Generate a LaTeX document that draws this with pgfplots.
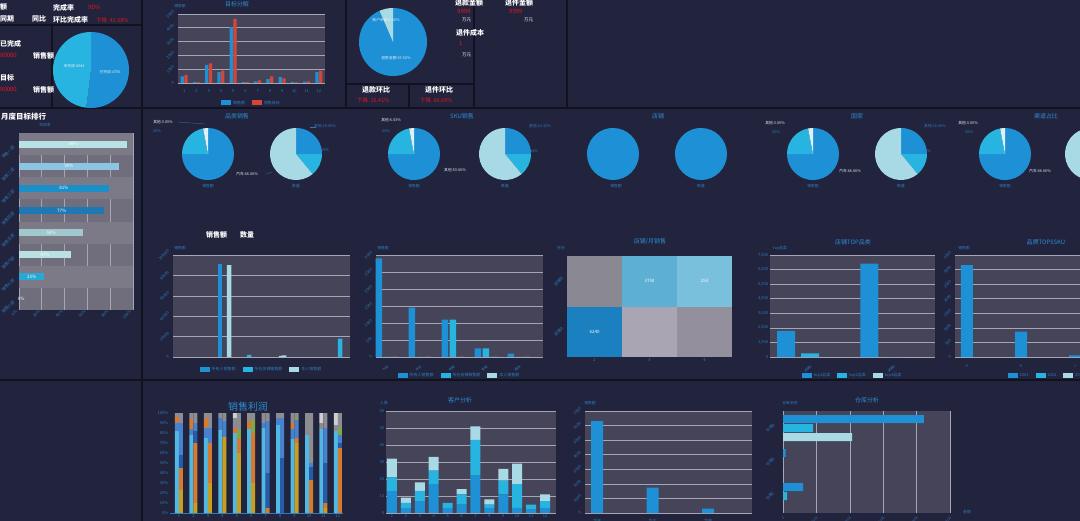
\documentclass[border=0pt]{standalone}
\usepackage{pgfplots}
\pgfplotsset{compat=1.18}
\usepackage{fontspec}
\setmainfont{Noto Sans CJK SC}

\definecolor{bg}{RGB}{34,36,61}
\definecolor{divc}{RGB}{17,18,32}
\definecolor{plotbg}{RGB}{70,68,88}
\definecolor{gridc}{RGB}{165,165,180}
\definecolor{tickc}{RGB}{45,125,190}
\definecolor{titc}{RGB}{45,140,210}
\definecolor{cblue}{RGB}{30,144,214}
\definecolor{ccyan}{RGB}{40,180,225}
\definecolor{cpale}{RGB}{168,218,230}
\definecolor{cwhite}{RGB}{225,240,245}
\definecolor{cred}{RGB}{214,70,56}
\definecolor{kred}{RGB}{230,20,30}
\definecolor{sgold}{RGB}{200,158,32}
\definecolor{sorange}{RGB}{214,122,48}
\definecolor{sdblue}{RGB}{40,90,170}
\definecolor{sblue}{RGB}{70,130,205}
\definecolor{sgreen}{RGB}{130,168,70}
\definecolor{sgray}{RGB}{140,140,145}
\definecolor{slgray}{RGB}{205,205,210}
\definecolor{scyan}{RGB}{80,184,226}
\definecolor{rkbg}{RGB}{112,110,124}
\definecolor{rkband}{RGB}{125,122,136}
\definecolor{rk1}{RGB}{183,225,228}
\definecolor{rk2}{RGB}{140,196,226}
\definecolor{rk3}{RGB}{26,143,200}
\definecolor{rk4}{RGB}{30,120,180}
\definecolor{rk5}{RGB}{160,200,205}
\definecolor{rk6}{RGB}{185,225,228}
\definecolor{rk7}{RGB}{39,169,214}
\definecolor{hm1}{RGB}{138,136,147}
\definecolor{hm2}{RGB}{93,176,212}
\definecolor{hm3}{RGB}{121,192,220}
\definecolor{hm4}{RGB}{26,128,191}
\definecolor{hm5}{RGB}{169,165,179}
\definecolor{hm6}{RGB}{147,143,156}

\newcommand{\fsz}[1]{\fontsize{#1}{#1}\selectfont}
% pie wedge: centre x, centre y, radius, from %, to %, colour (clockwise from top)
\newcommand{\pieslice}[6]{\fill[#6] (axis cs:#1,#2) -- ++({90-3.6*(#4)}:#3bp) arc[start angle={90-3.6*(#4)}, end angle={90-3.6*(#5)}, radius=#3bp] -- cycle;}
\newcommand{\pieA}[2]{\pieslice{#1}{#2}{26}{0}{75}{cblue}\pieslice{#1}{#2}{26}{75}{97}{ccyan}\pieslice{#1}{#2}{26}{97}{100}{cwhite}}
\newcommand{\pieB}[2]{\pieslice{#1}{#2}{26}{0}{25}{cblue}\pieslice{#1}{#2}{26}{25}{39}{ccyan}\pieslice{#1}{#2}{26}{39}{100}{cpale}}

\pgfplotsset{
  sq/.style={legend image code/.code={\fill[##1, draw=none] (0bp,-2bp) rectangle (10bp,3bp);}},
  dash/.style={
    scale only axis, clip=false, anchor=north west,
    axis background/.style={fill=plotbg},
    axis line style={draw=none},
    tick style={draw=none},
    ymajorgrids, major grid style={gridc, line width=0.6bp},
    tick label style={font=\fsz{4}, text=tickc},
    xticklabel style={yshift=1.5bp}, yticklabel style={xshift=1.5bp},
    /pgf/number format/assume math mode=true,
    every axis plot post/.append style={sq},
    legend style={draw=none, fill=none, font=\fsz{4}, text=tickc, legend columns=-1,
      /tikz/every even column/.append style={column sep=5bp}},
  },
}

\begin{document}
\begin{tikzpicture}[x=1bp, y=-1bp]
\useasboundingbox (0,0) rectangle (1080,521);
\clip (0,0) rectangle (1080,521);
\fill[bg] (0,0) rectangle (1080,521);

% dividers
\draw[divc, line width=1.2bp] (0,108) -- (1080,108);
\draw[divc, line width=1.2bp] (0,380) -- (1080,380);
\draw[divc, line width=1.2bp] (142,0) -- (142,521);
\draw[divc, line width=1.2bp] (0,25) -- (142,25);
\draw[divc, line width=1.2bp] (52,25) -- (52,108);
\draw[divc, line width=1.2bp] (346,0) -- (346,108);
\draw[divc, line width=1.2bp] (474,0) -- (474,108);
\draw[divc, line width=1.2bp] (567,0) -- (567,108);
\draw[divc, line width=1.2bp] (346,84) -- (474,84);
\draw[divc, line width=1.2bp] (409,84) -- (409,108);

% top-left KPI texts
\begin{scope}[every node/.style={inner sep=0pt, anchor=west, font=\fsz{7}\bfseries, text=white}]
\node at (0,7) {额};
\node at (0,19) {同期};
\node at (32,19) {同比};
\node at (53,8) {完成率};
\node[text=kred, font=\fsz{6}] at (88,7) {90\%};
\node at (53,20) {环比完成率};
\node[text=kred, font=\fsz{5.5}] at (96,20) {下降\ \ 41.38\%};
\node at (0,44) {已完成};
\node[text=kred, font=\fsz{6}] at (0,55) {80000};
\node at (33,56) {销售额};
\node at (0,78) {目标};
\node[text=kred, font=\fsz{6}] at (0,89) {90000};
\node at (33,90) {销售额};
% refunds
\node at (455,3) {退款金额};
\node[text=kred, font=\fsz{6}] at (457,11) {9999};
\node[font=\fsz{4.5}] at (462,20) {万元};
\node at (456,33) {退件成本};
\node[text=kred, font=\fsz{6}] at (459,43) {1};
\node[font=\fsz{4.5}] at (462,55) {万元};
\node at (505,3) {退件金额};
\node[text=kred, font=\fsz{6}] at (509,11) {9999};
\node[font=\fsz{4.5}] at (524,20) {万元};
\node at (362,90) {退款环比};
\node[text=kred, font=\fsz{5.5}] at (357,100) {下降\ \ 16.41\%};
\node at (425,90) {退件环比};
\node[text=kred, font=\fsz{5.5}] at (420,100) {下降\ \ 66.66\%};
% section titles
\node[font=\fsz{7.5}\bfseries] at (1,117) {月度目标排行};
\node[font=\fsz{7}\bfseries] at (206,235) {销售额};
\node[font=\fsz{7}\bfseries] at (240,235) {数量};
\end{scope}

\begin{scope}[every node/.style={inner sep=0pt, font=\fsz{6}, text=titc}]
\node at (237,4) {目标分解};
\node at (237,116) {品类销售};
\node at (462,116) {SKU销售};
\node at (658,116) {店铺};
\node at (857,116) {国家};
\node at (1046,116) {渠道占比};
\node at (650,242) {店铺/月销售};
\node at (853,242) {店铺TOP品类};
\node at (1046,242) {品牌TOP5SKU};
\node at (460,400) {客户分析};
\node at (867,400) {仓库分析};
\node[font=\fsz{10}] at (248,407) {销售利润};
\end{scope}

\begin{scope}[every node/.style={inner sep=0pt, font=\fsz{3.8}, text=tickc}]
\node at (180,6) {销售额};
\node at (45,125) {完成率};
\node at (180,248) {销售额};
\node at (383,248) {销售额};
\node at (561,248) {月份};
\node at (780,248) {top品类};
\node at (964,248) {销售额};
\node at (384,403) {人数};
\node at (590,403) {销售额};
\node at (790,403) {仓库名称};
\node at (967,512) {金额};
\end{scope}

% pies (values in percent)
\begin{axis}[at={(0bp,0bp)}, anchor=north west, scale only axis, width=1080bp, height=521bp,
  xmin=0, xmax=1080, ymin=0, ymax=521, y dir=reverse, hide axis, clip=false]
\pieslice{91}{70}{38}{0}{52}{cblue}
\pieslice{91}{70}{38}{52}{100}{ccyan}
\pieslice{393}{42}{34}{0}{93.5}{cblue}
\pieslice{393}{42}{34}{93.5}{100}{cpale}
\pieA{208}{154} \pieB{296}{154}
\pieA{414}{154} \pieB{505}{154}
\pieslice{613}{154}{26}{0}{100}{cblue}
\pieslice{701}{154}{26}{0}{100}{cblue}
\pieA{813}{154} \pieB{901}{154}
\pieA{1005}{154} \pieB{1091}{154}
\end{axis}

% pie labels
\begin{scope}[every node/.style={inner sep=0pt, font=\fsz{3.8}, text=cwhite}]
\node at (74,66) {未完成:4044};
\node at (110,72) {已完成:4756};
\node at (386,20) {账户余额:6.50\%};
\node at (396,58) {退款金额:93.50\%};
\node at (163,122) {其他:3.05\%};
\node at (247,174) {汽车:66.00\%};
\node at (391,120) {其他:6.03\%};
\node at (455,170) {其他:53.66\%};
\node at (775,123) {其他:3.05\%};
\node at (850,171) {汽车:66.66\%};
\node at (968,123) {其他:3.05\%};
\node at (1040,171) {汽车:66.66\%};
\end{scope}
\begin{scope}[every node/.style={inner sep=0pt, font=\fsz{3.8}, text=tickc}]
\foreach \cx/\lab in {208/销售额, 296/数量, 414/销售额, 505/数量, 813/销售额, 901/数量, 1005/销售额} {\node at (\cx,186) {\lab};}
\node at (616,186) {销售额};
\node at (701,186) {数量};
\node at (157,131) {20\%};
\node at (386,131) {20\%};
\node at (776,132) {20\%};
\node at (969,132) {20\%};
\node at (325,126) {其他:18.00\%};
\node at (540,126) {其他:16.32\%};
\node at (935,126) {其他:16.66\%};
\node at (325,150) {25\%};
\node at (534,151) {16\%};
\node at (927,151) {14\%};
\draw[tickc, line width=0.3bp] (178,122) -- (205,124);
\draw[tickc, line width=0.3bp] (266,174) -- (272,172);
\draw[tickc, line width=0.3bp] (310,127) -- (316,127);
\end{scope}

% target split
\begin{axis}[dash, at={(178bp,-14bp)}, width=147bp, height=69bp,
  ybar=0.6bp, bar width=3.3bp, xmin=0.5, xmax=12.5, ymin=0, ymax=210,
  ytick={0,42,...,210}, yticklabels={0,1000,2000,3000,4000,5000},
  y tick label style={rotate=45}, xtick={1,...,12},
  legend style={at={(0.5,-0.2)}, anchor=north}]
\addplot[fill=cblue, draw=none] coordinates {(1,20) (2,3) (3,55) (4,33) (5,170) (6,3) (7,5) (8,12) (9,18) (10,3) (11,4) (12,33)};
\addlegendentry{销售额}
\addplot[fill=cred, draw=none] coordinates {(1,25) (2,2) (3,60) (4,38) (5,195) (6,3) (7,8) (8,20) (9,14) (10,2) (11,5) (12,38)};
\addlegendentry{销售目标}
\end{axis}

% monthly ranking
\begin{axis}[dash, at={(19bp,-133bp)}, width=114bp, height=177bp,
  xbar, bar width=7bp, ymin=0.5, ymax=8.5, y dir=reverse, xmin=0, xmax=103,
  ymajorgrids=false, xmajorgrids, axis background/.style={fill=rkbg},
  xtick={0,20.6,41.2,61.8,82.4,103}, xticklabels={0\%,20\%,40\%,60\%,80\%,100\%},
  x tick label style={rotate=45, anchor=east},
  ytick={1,...,8}, yticklabels={销售一部,销售二部,销售三部,销售四部,销售五部,销售六部,销售七部,销售八部},
  y tick label style={rotate=45, anchor=east}]
\fill[rkband] (axis cs:0,0.5) rectangle (axis cs:103,1.5);
\fill[rkband] (axis cs:0,2.5) rectangle (axis cs:103,3.5);
\fill[rkband] (axis cs:0,4.5) rectangle (axis cs:103,5.5);
\fill[rkband] (axis cs:0,6.5) rectangle (axis cs:103,7.5);
\addplot[fill=rk1, draw=none, bar shift=0pt] coordinates {(98,1)};
\addplot[fill=rk2, draw=none, bar shift=0pt] coordinates {(90,2)};
\addplot[fill=rk3, draw=none, bar shift=0pt] coordinates {(81,3)};
\addplot[fill=rk4, draw=none, bar shift=0pt] coordinates {(77,4)};
\addplot[fill=rk5, draw=none, bar shift=0pt] coordinates {(58,5)};
\addplot[fill=rk6, draw=none, bar shift=0pt] coordinates {(47,6)};
\addplot[fill=rk7, draw=none, bar shift=0pt] coordinates {(23,7)};
\addplot[fill=cblue, draw=none, bar shift=0pt] coordinates {(0,8)};
\node[font=\fsz{4.5}, text=white, inner sep=0pt] at (axis cs:49,1) {98\%};
\node[font=\fsz{4.5}, text=white, inner sep=0pt] at (axis cs:45,2) {90\%};
\node[font=\fsz{4.5}, text=white, inner sep=0pt] at (axis cs:40.5,3) {81\%};
\node[font=\fsz{4.5}, text=white, inner sep=0pt] at (axis cs:38.5,4) {77\%};
\node[font=\fsz{4.5}, text=white, inner sep=0pt] at (axis cs:29,5) {58\%};
\node[font=\fsz{4.5}, text=white, inner sep=0pt] at (axis cs:23.5,6) {47\%};
\node[font=\fsz{4.5}, text=white, inner sep=0pt] at (axis cs:11.5,7) {23\%};
\node[font=\fsz{4.5}, text=white, inner sep=0pt] at (axis cs:2,8) {0\%};
\end{axis}

% sales amount by person
\begin{axis}[dash, at={(173bp,-255bp)}, width=177bp, height=102bp,
  ybar, bar width=4.5bp, xmin=173, xmax=350, ymin=0, ymax=5, ytick={0,...,5},
  yticklabels={0,20000,40000,60000,80000,100000}, y tick label style={rotate=45},
  xtick=\empty, legend style={at={(0.5,-0.06)}, anchor=north}]
\addplot[fill=cblue, draw=none, bar shift=0pt] coordinates {(220,4.55)};
\addlegendentry{所有人销售额}
\addplot[fill=ccyan, draw=none, bar shift=0pt] coordinates {(249,0.1) (340,0.9)};
\addlegendentry{所在店铺销售额}
\addplot[fill=cpale, draw=none, bar shift=0pt] coordinates {(229,4.5) (281,0.05) (284,0.08)};
\addlegendentry{本人销售额}
\end{axis}

% quantity by category
\begin{axis}[dash, at={(376bp,-255bp)}, width=167bp, height=102bp,
  ybar=1.5bp, bar width=6.5bp, xmin=0.67, xmax=5.73, ymin=0, ymax=6, ytick={0,...,6},
  yticklabels={0,500,1000,1500,2000,2500,3000}, y tick label style={rotate=45},
  xtick={1,...,5}, xticklabels={汽车,手机,电脑,家电,服饰},
  x tick label style={rotate=45, anchor=north east, font=\fsz{3.3}},
  legend style={at={(0.5,-0.12)}, anchor=north}]
\addplot[fill=cblue, draw=none] coordinates {(1,5.8) (2,2.9) (3,2.2) (4,0.5) (5,0.2)};
\addlegendentry{所有人销售额}
\addplot[fill=ccyan, draw=none] coordinates {(1,0) (2,0) (3,2.2) (4,0.5) (5,0)};
\addlegendentry{所在店铺销售额}
\addplot[fill=cpale, draw=none] coordinates {(1,0) (2,0) (3,0) (4,0) (5,0)};
\addlegendentry{本人销售额}
\end{axis}

% store / month heatmap
\begin{axis}[dash, at={(567bp,-256bp)}, width=165bp, height=101bp,
  xmin=0, xmax=3, ymin=0, ymax=2, ymajorgrids=false,
  xtick={0.5,1.5,2.5}, xticklabels={2,3,4}, ytick={0.5,1.5}, yticklabels={店铺A,店铺B},
  y tick label style={rotate=45}]
\addplot[fill=hm1, draw=none] coordinates {(0,1) (1,1) (1,2) (0,2)} -- cycle;
\addplot[fill=hm2, draw=none] coordinates {(1,1) (2,1) (2,2) (1,2)} -- cycle;
\addplot[fill=hm3, draw=none] coordinates {(2,1) (3,1) (3,2) (2,2)} -- cycle;
\addplot[fill=hm4, draw=none] coordinates {(0,0) (1,0) (1,1) (0,1)} -- cycle;
\addplot[fill=hm5, draw=none] coordinates {(1,0) (2,0) (2,1) (1,1)} -- cycle;
\addplot[fill=hm6, draw=none] coordinates {(2,0) (3,0) (3,1) (2,1)} -- cycle;
\node[font=\fsz{4.5}, text=white] at (axis cs:0.5,0.5) {6240};
\node[font=\fsz{4.5}, text=white] at (axis cs:1.5,1.5) {3750};
\node[font=\fsz{4.5}, text=white] at (axis cs:2.5,1.5) {253};
\end{axis}

% store top category
\begin{axis}[dash, at={(770bp,-255bp)}, width=165bp, height=102bp,
  ybar=6bp, bar width=18bp, xmin=-0.48, xmax=1.5, ymin=0, ymax=7000, ytick={0,1000,...,7000},
  scaled y ticks=false, xtick={0,1}, xticklabels={店铺A,店铺B},
  x tick label style={rotate=45, anchor=north east, font=\fsz{3.3}},
  legend style={at={(0.5,-0.12)}, anchor=north}]
\addplot[fill=cblue, draw=none] coordinates {(0,1800) (1,6400)};
\addlegendentry{top1品类}
\addplot[fill=ccyan, draw=none] coordinates {(0,250) (1,0)};
\addlegendentry{top2品类}
\addplot[fill=cpale, draw=none] coordinates {(0,0) (1,0)};
\addlegendentry{top3品类}
\end{axis}

% brand top5 sku
\begin{axis}[dash, at={(955bp,-255bp)}, width=165bp, height=102bp,
  ybar, bar width=12bp, xmin=-0.22, xmax=2.83, ymin=0, ymax=7, ytick={0,...,7},
  yticklabels={0,500,1000,1500,2000,2500,3000,3500}, y tick label style={rotate=45},
  xtick={0,1,2}, xticklabels={A,B,C}, x tick label style={rotate=45, anchor=north east, font=\fsz{3.3}},
  legend style={at={(0.3,-0.12)}, anchor=north west}]
\addplot[fill=cblue, draw=none, bar shift=0pt] coordinates {(0,6.3) (1,1.75) (2,0.12)};
\addlegendentry{2001}
\addplot[fill=ccyan, draw=none, bar shift=0pt] coordinates {(0,0) (1,0) (2,0)};
\addlegendentry{2002}
\addplot[fill=cpale, draw=none, bar shift=0pt] coordinates {(0,0) (1,0) (2,0)};
\addlegendentry{2003}
\end{axis}

% sales profit (100% stacked, two columns a month)
\begin{axis}[dash, at={(170bp,-413bp)}, width=173bp, height=100bp,
  axis background/.style={fill=none}, ymajorgrids=false,
  ybar stacked, bar width=4bp, bar shift=-2bp, xmin=0.38, xmax=12.35, ymin=0, ymax=100,
  ytick={0,10,...,100}, yticklabel={\pgfmathprintnumber{\tick}\%}, xtick={1,...,12},
  axis x line*=bottom, x axis line style={draw=tickc}]
\addplot[fill=scyan, draw=none] coordinates {(1,82) (2,78) (3,75) (4,83) (5,80) (6,84) (7,85) (8,88) (9,74) (10,78) (11,84) (12,82)};
\addplot[fill=sblue, draw=none] coordinates {(1,8) (2,6) (3,10) (4,12) (5,0) (6,0) (7,5) (8,7) (9,10) (10,0) (11,0) (12,0)};
\addplot[fill=sorange, draw=none] coordinates {(1,6) (2,10) (3,10) (4,0) (5,5) (6,8) (7,0) (8,0) (9,6) (10,0) (11,0) (12,0)};
\addplot[fill=sgray, draw=none] coordinates {(1,4) (2,6) (3,5) (4,5) (5,10) (6,8) (7,10) (8,5) (9,10) (10,22) (11,6) (12,6)};
\addplot[fill=slgray, draw=none] coordinates {(1,0) (2,0) (3,0) (4,0) (5,5) (6,0) (7,0) (8,0) (9,0) (10,0) (11,10) (12,12)};
\end{axis}
\begin{axis}[dash, at={(170bp,-413bp)}, width=173bp, height=100bp,
  axis background/.style={fill=none}, ymajorgrids=false, hide axis,
  ybar stacked, bar width=4bp, bar shift=2bp, xmin=0.38, xmax=12.35, ymin=0, ymax=100]
\addplot[fill=sgold, draw=none] coordinates {(1,23) (2,10) (3,30) (4,76) (5,60) (6,30) (7,0) (8,0) (9,70) (10,0) (11,5) (12,0)};
\addplot[fill=sorange, draw=none] coordinates {(1,22) (2,60) (3,40) (4,0) (5,15) (6,50) (7,5) (8,0) (9,5) (10,33) (11,5) (12,65)};
\addplot[fill=sdblue, draw=none] coordinates {(1,13) (2,12) (3,0) (4,0) (5,0) (6,0) (7,35) (8,55) (9,0) (10,13) (11,40) (12,5)};
\addplot[fill=sblue, draw=none] coordinates {(1,32) (2,8) (3,15) (4,16) (5,0) (6,0) (7,52) (8,40) (9,18) (10,4) (11,35) (12,8)};
\addplot[fill=sgreen, draw=none] coordinates {(1,0) (2,0) (3,0) (4,0) (5,8) (6,13) (7,0) (8,0) (9,2) (10,0) (11,0) (12,7)};
\addplot[fill=sgray, draw=none] coordinates {(1,10) (2,10) (3,15) (4,8) (5,17) (6,7) (7,8) (8,5) (9,5) (10,50) (11,15) (12,15)};
\end{axis}

% customer analysis
\begin{axis}[dash, at={(386bp,-411bp)}, width=170bp, height=102bp,
  ybar stacked, bar width=10bp, xmin=0.57, xmax=12.79, ymin=0, ymax=60, ytick={0,10,...,60},
  xtick={1,...,12}]
\addplot[fill=cblue, draw=none] coordinates {(1,13) (2,3) (3,7) (4,17) (5,3) (6,5) (7,22) (8,3) (9,11) (10,3) (11,2) (12,3)};
\addplot[fill=ccyan, draw=none] coordinates {(1,8) (2,3) (3,6) (4,8) (5,3) (6,6) (7,21) (8,2) (9,8) (10,14) (11,3) (12,4)};
\addplot[fill=cpale, draw=none] coordinates {(1,11) (2,3) (3,5) (4,8) (5,0) (6,3) (7,8) (8,3) (9,7) (10,12) (11,0) (12,4)};
\end{axis}

% sales by region
\begin{axis}[dash, at={(585bp,-411bp)}, width=167bp, height=102bp,
  ybar, bar width=12bp, xmin=-0.216, xmax=2.79, ymin=0, ymax=7, ytick={0,...,7},
  yticklabels={0,1000,2000,3000,4000,5000,6000,7000}, y tick label style={rotate=45},
  xtick={0,1,2}, xticklabels={华东,华北,华南}]
\addplot[fill=cblue, draw=none, bar shift=0pt] coordinates {(0,6.3) (1,1.75) (2,0.3)};
\end{axis}

% warehouse analysis (drawn last-to-first so that the first series sits on top)
\begin{axis}[dash, at={(783bp,-411bp)}, width=167bp, height=102bp,
  xbar=1bp, bar width=8bp, y dir=reverse, ymin=-0.5, ymax=2.5, xmin=0, xmax=5,
  ymajorgrids=false, xmajorgrids, xtick={0,...,5},
  xticklabels={0,2000,4000,6000,8000,10000}, x tick label style={rotate=45, anchor=north east, font=\fsz{3.3}},
  ytick={0,1,2}, yticklabels={仓库A,仓库B,仓库C}, y tick label style={rotate=45}]
\addplot[fill=cpale, draw=none] coordinates {(2.07,0) (0,1) (0,2)};
\addplot[fill=ccyan, draw=none] coordinates {(0.9,0) (0,1) (0.12,2)};
\addplot[fill=cblue, draw=none] coordinates {(4.22,0) (0.08,1) (0.6,2)};
\end{axis}
\end{tikzpicture}
\end{document}
